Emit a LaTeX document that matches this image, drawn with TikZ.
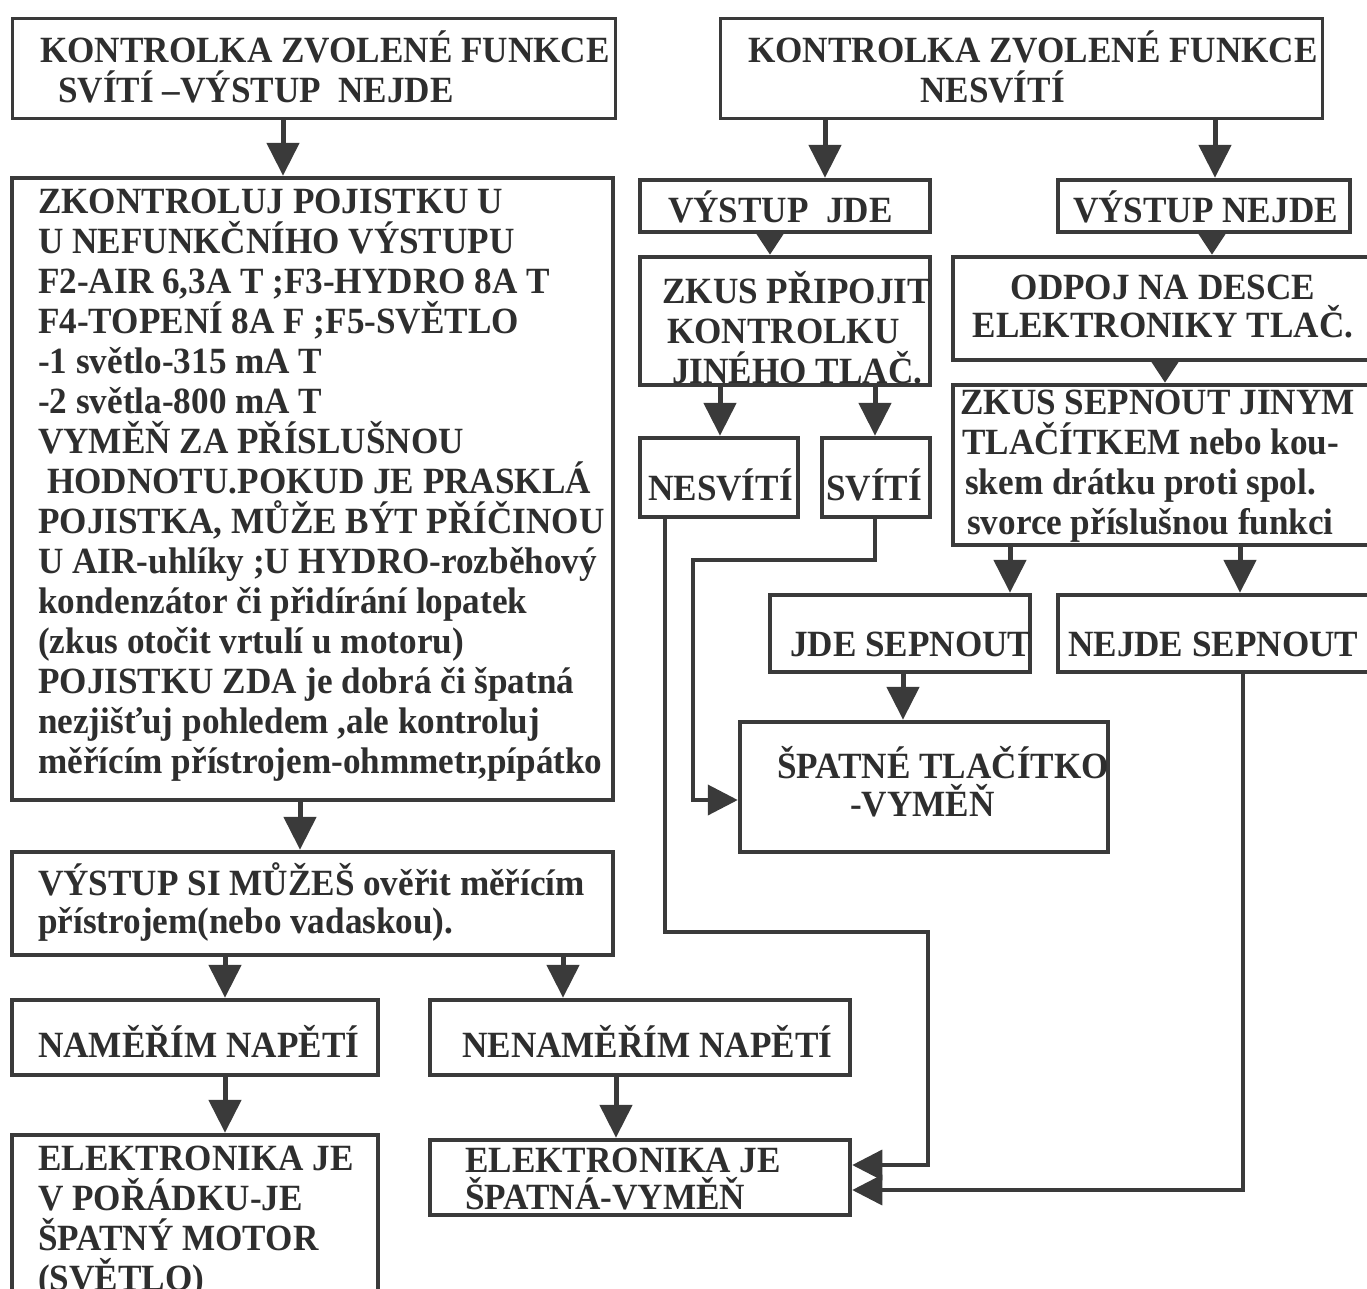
\documentclass[tikz,border=0pt]{standalone}
\usepackage{fontspec}
\setmainfont{Liberation Serif}[FakeStretch=0.95]
\usetikzlibrary{arrows.meta}
\definecolor{lc}{HTML}{3A3A3A}
\definecolor{tc}{HTML}{2E2E2E}
\begin{document}
\begin{tikzpicture}[x=1pt,y=-1pt,
  box/.style={draw=lc,line width=4.5pt,inner sep=0pt},
  thinbox/.style={box,line width=3pt},
  txt/.style={anchor=west,inner sep=0pt,text=tc,align=left,
     font=\fontsize{37}{40}\selectfont\bfseries},
  arr/.style={draw=lc,line width=5pt,-{Triangle[width=32pt,length=33pt]}},
  sarr/.style={draw=lc,line width=5pt,-{Triangle[width=30pt,length=24pt]}},
  conn/.style={draw=lc,line width=4pt,-{Triangle[width=30pt,length=30pt]}}]
\useasboundingbox (0,0) rectangle (1367,1288);
\clip (0,0) rectangle (1367,1288);
\fill[white] (0,0) rectangle (1367,1288);

% ---------- boxes ----------
\node[thinbox,minimum width=603pt,minimum height=100pt] (A) at (313.5,68) {};
\node[box,minimum width=601pt,minimum height=622pt] (B) at (312.5,489) {};
\node[box,minimum width=601pt,minimum height=103pt] (C) at (312.5,903.5) {};
\node[box,minimum width=366pt,minimum height=75pt] (D) at (195,1037.5) {};
\node[box,minimum width=420pt,minimum height=75pt] (E) at (640,1037.5) {};
\node[box,minimum width=366pt,minimum height=170pt] (F) at (195,1220) {};
\node[box,minimum width=420pt,minimum height=75pt] (G) at (640,1177.5) {};
\node[thinbox,minimum width=602pt,minimum height=100pt] (H) at (1021,68) {};
\node[box,minimum width=290pt,minimum height=52pt] (I) at (785,206) {};
\node[box,minimum width=292pt,minimum height=52pt] (J) at (1204,206) {};
\node[box,minimum width=290pt,minimum height=128pt] (K) at (785,321) {};
\node[box,minimum width=427pt,minimum height=103pt] (L) at (1166.5,308.5) {};
\node[box,minimum width=427pt,minimum height=160pt] (M) at (1166.5,465) {};
\node[box,minimum width=158pt,minimum height=79pt] (N) at (719,477.5) {};
\node[box,minimum width=108pt,minimum height=79pt] (O) at (876,477.5) {};
\node[box,minimum width=260pt,minimum height=77pt] (P) at (900,633.5) {};
\node[box,minimum width=317pt,minimum height=77pt] (Q) at (1216.5,633.5) {};
\node[box,minimum width=368pt,minimum height=130pt] (R) at (924,787) {};

% ---------- texts ----------
\node[txt] (At) at (40,67)
  {KONTROLKA ZVOLENÉ FUNKCE\\\hspace*{18pt}SVÍTÍ –VÝSTUP\ \ NEJDE};
\node[txt] (Bt) at (38,485)
  {ZKONTROLUJ POJISTKU U\\
   U NEFUNKČNÍHO VÝSTUPU\\
   F2-AIR 6,3A T ;F3-HYDRO 8A T\\
   F4-TOPENÍ 8A F ;F5-SVĚTLO\\
   -1 světlo-315 mA T\\
   -2 světla-800 mA T\\
   VYMĚŇ ZA PŘÍSLUŠNOU\\
   \hspace*{9pt}HODNOTU.POKUD JE PRASKLÁ\\
   POJISTKA, MŮŽE BÝT PŘÍČINOU\\
   U AIR-uhlíky ;U HYDRO-rozběhový\\
   kondenzátor či přidírání lopatek\\
   (zkus otočit vrtulí u motoru)\\
   POJISTKU ZDA je dobrá či špatná\\
   nezjišťuj pohledem ,ale kontroluj\\
   měřícím přístrojem-ohmmetr,pípátko};
\node[txt,font=\fontsize{37}{38}\selectfont\bfseries] (Ct) at (38,902)
  {VÝSTUP SI MŮŽEŠ ověřit měřícím\\přístrojem(nebo vadaskou).};
\node[txt] (Dt) at (38,1041) {NAMĚŘÍM NAPĚTÍ};
\node[txt] (Et) at (462,1041) {NENAMĚŘÍM NAPĚTÍ};
\node[txt] (Ft) at (38,1222)
  {ELEKTRONIKA JE\\V POŘÁDKU-JE\\ŠPATNÝ MOTOR\\(SVĚTLO)};
\node[txt,font=\fontsize{37}{37}\selectfont\bfseries] (Gt) at (465,1179)
  {ELEKTRONIKA JE\\ŠPATNÁ-VYMĚŇ};
\node[txt] (Ht) at (748,67)
  {KONTROLKA ZVOLENÉ FUNKCE\\\hspace*{172pt}NESVÍTÍ};
\node[txt] (It) at (668,207) {VÝSTUP\ \ JDE};
\node[txt] (Jt) at (1073,207) {VÝSTUP NEJDE};
\node[txt] (Kt) at (662,328)
  {ZKUS PŘIPOJIT\\\hspace*{5pt}KONTROLKU\\\hspace*{10pt}JINÉHO TLAČ.};
\node[txt,anchor=center,align=center,font=\fontsize{37}{38}\selectfont\bfseries] (Lt) at (1163,307)
  {ODPOJ NA DESCE\\ELEKTRONIKY TLAČ.};
\node[txt] (Mt) at (960,466)
  {ZKUS SEPNOUT JINYM\\
   \hspace*{2pt}TLAČÍTKEM nebo kou-\\
   \hspace*{5pt}skem drátku proti spol.\\
   \hspace*{7pt}svorce příslušnou funkci};
\node[txt] (Nt) at (648,485) {NESVÍTÍ};
\node[txt] (Ot) at (826,485) {SVÍTÍ};
\node[txt] (Pt) at (790,644) {JDE SEPNOUT};
\node[txt] (Qt) at (1068,644) {NEJDE SEPNOUT};
\node[txt,font=\fontsize{37}{38}\selectfont\bfseries] (Rt) at (777,782)
  {ŠPATNÉ TLAČÍTKO\\\hspace*{73pt}-VYMĚŇ};

% ---------- straight arrows ----------
\draw[arr] (283,0 |- A.south) -- (283,0 |- B.north);
\draw[arr] (300,0 |- B.south) -- (300,0 |- C.north);
\draw[arr] (225,0 |- C.south) -- (225,0 |- D.north);
\draw[arr] (563,0 |- C.south) -- (563,0 |- E.north);
\draw[arr] (225,0 |- D.south) -- (225,0 |- F.north);
\draw[arr] (616,0 |- E.south) -- (616,0 |- G.north);
\draw[arr] (825,0 |- H.south) -- (825,0 |- I.north);
\draw[arr] (1215,0 |- H.south) -- (1215,0 |- J.north);
\draw[sarr] (770,0 |- I.south) -- (770,0 |- K.north);
\draw[sarr] (1212,0 |- J.south) -- (1212,0 |- L.north);
\draw[sarr] (1165,0 |- L.south) -- (1165,0 |- M.north);
\draw[arr] (720,0 |- K.south) -- (720,0 |- N.north);
\draw[arr] (875,0 |- K.south) -- (875,0 |- O.north);
\draw[arr] (1010,0 |- M.south) -- (1010,0 |- P.north);
\draw[arr] (1240,0 |- M.south) -- (1240,0 |- Q.north);
\draw[arr] (903,0 |- P.south) -- (903,0 |- R.north);

% ---------- elbow connectors ----------
\draw[conn] (875,0 |- O.south) -- (875,560) -- (693,560) -- (693,800) -- (R.west |- 0,800);
\draw[conn,line width=3.5pt] (665,0 |- N.south) -- (665,932) -- (928,932) -- (928,1165) -- (G.east |- 0,1165);
\draw[conn,line width=3.5pt] (1243,0 |- Q.south) -- (1243,1190) -- (G.east |- 0,1190);
\end{tikzpicture}
\end{document}
